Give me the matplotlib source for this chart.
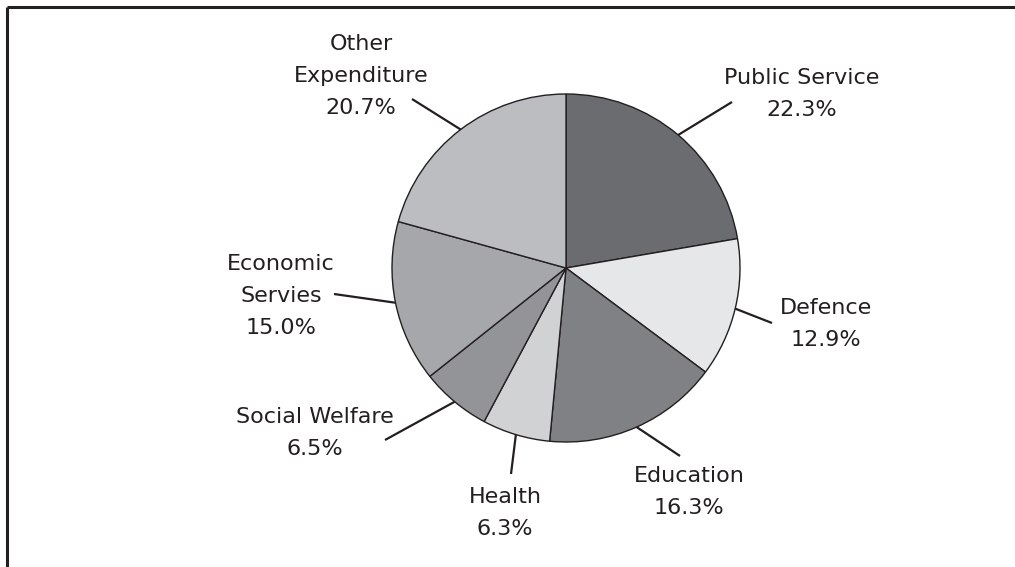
import numpy as np
import matplotlib
matplotlib.use('Agg')
import matplotlib.pyplot as plt

# Government expenditure shares (%), clockwise from 12 o'clock
categories = ['Public Service', 'Defence', 'Education', 'Health',
              'Social Welfare', 'Economic\nServies', 'Other\nExpenditure']
shares = [22.3, 12.9, 16.3, 6.3, 6.5, 15.0, 20.7]
colors = ['#6b6c70', '#e6e7e9', '#808184', '#d1d2d4',
          '#939497', '#a6a7aa', '#bcbdc0']

W, H = 1015, 567
INK = '#231f20'

# layout in image pixels (x, y from top): label block centre, leader outer end
label_pos = [(802, 94), (826, 324), (689, 492), (505, 513),
             (315, 433), (281, 296), (361, 76)]
leader_end = [(732, 102), (772, 323), (680, 456), (511, 474),
              (385, 440), (334, 294), (412, 99)]

CX, CY, R = 566, 268, 174

fig = plt.figure(figsize=(W / 100, H / 100), dpi=100)
ax = fig.add_axes([0, 0, 1, 1])
ax.set_xlim(0, W)
ax.set_ylim(0, H)
ax.set_aspect('equal')
ax.axis('off')

wedges, _ = ax.pie(shares, colors=colors, startangle=90, counterclock=False,
                   center=(CX, H - CY), radius=R,
                   wedgeprops=dict(edgecolor=INK, linewidth=1.0))
ax.set_xlim(0, W)
ax.set_ylim(0, H)

for w, name, val, (lx, ly), (ex, ey) in zip(wedges, categories, shares,
                                           label_pos, leader_end):
    mid = np.deg2rad((w.theta1 + w.theta2) / 2)
    px, py = CX + R * np.cos(mid), (H - CY) + R * np.sin(mid)
    ax.plot([px, ex], [py, H - ey], color=INK, lw=1.6, solid_capstyle='butt')
    ax.text(lx, H - ly, f'{name}\n{val:.1f}%', ha='center', va='center',
            multialignment='center', fontsize=16, color=INK,
            linespacing=1.75)

# partial frame: top and left edges only
ax.plot([7.5, W], [H - 6.5, H - 6.5], color=INK, lw=2.2, solid_capstyle='butt')
ax.plot([7.5, 7.5], [H - 6.5, 0], color=INK, lw=2.2, solid_capstyle='butt')

fig.savefig('out.png', dpi=100)
